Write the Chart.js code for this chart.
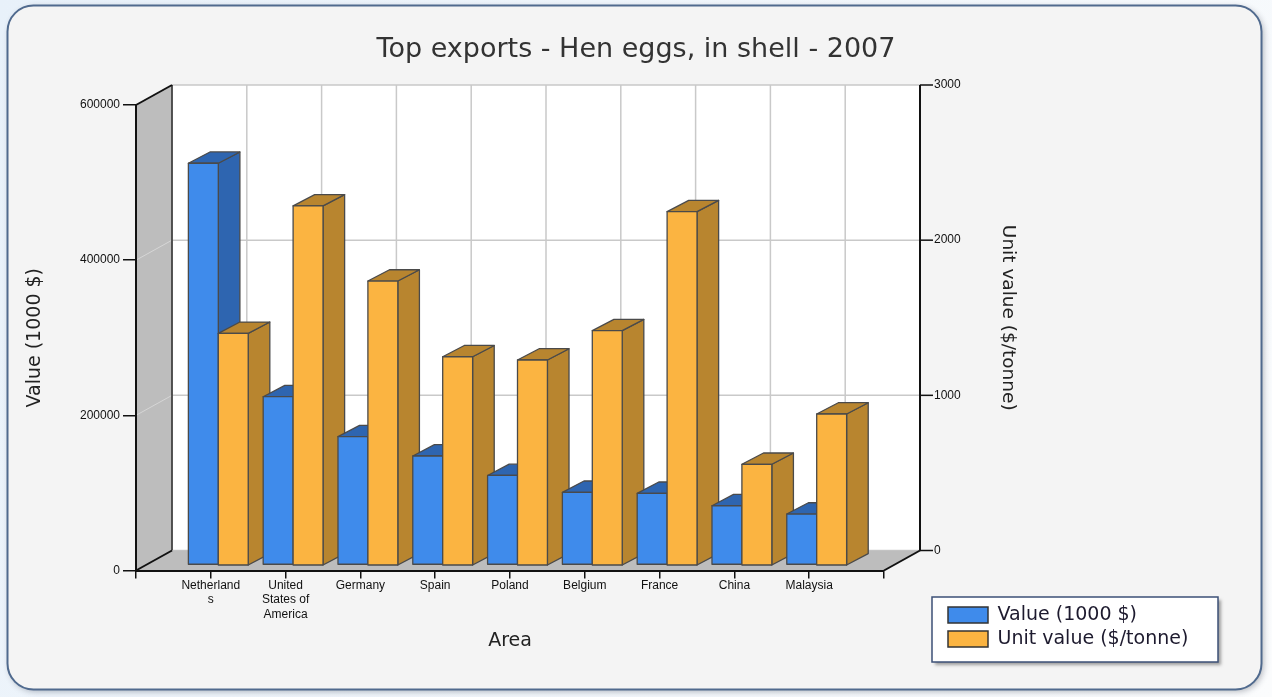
<!DOCTYPE html>
<html>
<head>
<meta charset="utf-8">
<script src="https://cdn.jsdelivr.net/npm/chart.js@4.4.1/dist/chart.umd.min.js"></script>
<style>
  html, body { margin: 0; padding: 0; background: #eef5fb; }
  canvas { display: block; }
</style>
</head>
<body>
<canvas id="chart" width="1272" height="697"></canvas>
<script>
// Top exporters of hen eggs in shell, 2007
const categories = ['Netherlands', 'United States of America', 'Germany', 'Spain', 'Poland', 'Belgium', 'France', 'China', 'Malaysia'];
const categoryTickLines = [['Netherland', 's'], ['United', 'States of', 'America'], ['Germany'], ['Spain'], ['Poland'], ['Belgium'], ['France'], ['China'], ['Malaysia']];
const exportValue = [517800, 216900, 165400, 140500, 115400, 93700, 92400, 76400, 65700];   // 1000 $
const unitValue = [1493, 2314, 1830, 1342, 1321, 1510, 2277, 649, 973];                      // $/tonne
const valueTicks = [0, 200000, 400000, 600000];
const unitTicks = [0, 1000, 2000, 3000];

// oblique projection: offset of the back plane, and of the bar boxes
const WALL = { dx: 36, dy: -20 };
const BAR_FRONT = { dx: 7.5, dy: -5.5 };
const BAR_DEPTH = { dx: 21.6, dy: -11.3 };

const COLORS = {
  valueFront: '#3f8beb', valueSide: '#2e65b0',
  unitFront: '#fbb441', unitSide: '#b8852f',
  edge: '#4a4a4a', wall: '#bdbdbd', grid: '#c9c9c9'
};

const TITLE_FONT = '"DejaVu Sans", Verdana, sans-serif';

// the axis runs from an empty slot to an empty slot, so each country sits on a grid line
const padSlots = arr => [null, ...arr, null];

function poly(ctx, pts, fill, stroke, lw) {
  ctx.beginPath();
  ctx.moveTo(pts[0][0], pts[0][1]);
  for (let i = 1; i < pts.length; i++) ctx.lineTo(pts[i][0], pts[i][1]);
  ctx.closePath();
  if (fill) { ctx.fillStyle = fill; ctx.fill(); }
  if (stroke) { ctx.strokeStyle = stroke; ctx.lineWidth = lw || 1; ctx.stroke(); }
}
function line(ctx, x0, y0, x1, y1, color, lw) {
  ctx.beginPath(); ctx.moveTo(x0, y0); ctx.lineTo(x1, y1);
  ctx.strokeStyle = color; ctx.lineWidth = lw; ctx.stroke();
}
function roundRectPath(ctx, x, y, w, h, r) {
  ctx.beginPath();
  ctx.moveTo(x + r, y);
  ctx.arcTo(x + w, y, x + w, y + h, r);
  ctx.arcTo(x + w, y + h, x, y + h, r);
  ctx.arcTo(x, y + h, x, y, r);
  ctx.arcTo(x, y, x + w, y, r);
  ctx.closePath();
}

const LEGEND_FRAME = { x: 932, y: 597, w: 286, h: 65 };

const chart3d = {
  id: 'chart3d',
  afterLayout(chart) {
    const lg = chart.legend;
    lg.left = LEGEND_FRAME.x + 11; lg.top = LEGEND_FRAME.y + 3.5;
    lg.right = lg.left + lg.width; lg.bottom = lg.top + lg.height;
  },
  beforeDraw(chart) {
    const { ctx, chartArea: a, scales: { x, y, y1 } } = chart;
    const L = a.left, R = a.right, T = a.top, B = a.bottom;
    const dx = WALL.dx, dy = WALL.dy;
    ctx.save();

    // page and rounded panel
    const bg = ctx.createLinearGradient(0, 0, chart.width, chart.height);
    bg.addColorStop(0, '#e8f1fa'); bg.addColorStop(1, '#fbfcfd');
    ctx.fillStyle = bg; ctx.fillRect(0, 0, chart.width, chart.height);
    ctx.save();
    ctx.shadowColor = 'rgba(40,50,70,0.35)'; ctx.shadowBlur = 6; ctx.shadowOffsetX = 2; ctx.shadowOffsetY = 2;
    roundRectPath(ctx, 7.5, 5.5, 1254, 684, 26);
    ctx.fillStyle = '#f4f4f4'; ctx.fill();
    ctx.restore();
    roundRectPath(ctx, 7.5, 5.5, 1254, 684, 26);
    ctx.strokeStyle = '#506a8e'; ctx.lineWidth = 2; ctx.stroke();

    // back wall with grid
    ctx.fillStyle = '#ffffff';
    ctx.fillRect(L + dx, T + dy, R - L, B - T);
    valueTicks.forEach(v => {
      const py = y.getPixelForValue(v) + dy;
      line(ctx, L + dx, py, R + dx, py, COLORS.grid, 1.5);
    });
    x.ticks.forEach((t, i) => {
      const px = x.getPixelForTick(i) + dx;
      line(ctx, px, T + dy, px, B + dy, COLORS.grid, 1.5);
    });

    // left side wall
    poly(ctx, [[L, T], [L + dx, T + dy], [L + dx, B + dy], [L, B]], COLORS.wall);
    valueTicks.slice(1, -1).forEach(v => {
      const py = y.getPixelForValue(v);
      line(ctx, L, py, L + dx, py + dy, 'rgba(230,230,230,0.6)', 1);
    });
    line(ctx, L + dx, T + dy, L + dx, B + dy, '#2a2a2a', 1.5);
    line(ctx, L, T, L + dx, T + dy, '#111', 2);

    // floor
    poly(ctx, [[L, B], [L + dx, B + dy], [R + dx, B + dy], [R, B]], COLORS.wall);
    line(ctx, L, B, L + dx, B + dy, '#111', 2);
    line(ctx, R, B, R + dx, B + dy, '#111', 2);

    // secondary axis standing on the back plane
    const ax = R + dx;
    line(ctx, ax, y1.getPixelForValue(unitTicks[0]) + dy, ax, y1.getPixelForValue(unitTicks[unitTicks.length - 1]) + dy, '#111', 2);
    ctx.font = '12px "Liberation Sans", Arial, sans-serif';
    ctx.fillStyle = '#111'; ctx.textAlign = 'left'; ctx.textBaseline = 'middle';
    unitTicks.forEach(v => {
      const py = y1.getPixelForValue(v) + dy;
      line(ctx, ax, py, ax + 13, py, '#111', 1.5);
      ctx.fillText(String(v), ax + 14, py);
    });
    ctx.save();
    ctx.translate(1008, (y1.getPixelForValue(unitTicks[0]) + y1.getPixelForValue(unitTicks[unitTicks.length - 1])) / 2 + dy);
    ctx.rotate(Math.PI / 2);
    ctx.font = '18.5px ' + TITLE_FONT;
    ctx.fillStyle = '#222'; ctx.textAlign = 'center';
    ctx.fillText('Unit value ($/tonne)', 0, 0);
    ctx.restore();

    // legend frame
    const f = LEGEND_FRAME;
    ctx.save();
    ctx.shadowColor = 'rgba(0,0,0,0.35)'; ctx.shadowBlur = 3; ctx.shadowOffsetX = 3; ctx.shadowOffsetY = 3;
    ctx.fillStyle = '#ffffff'; ctx.fillRect(f.x, f.y, f.w, f.h);
    ctx.restore();
    ctx.strokeStyle = '#3d5077'; ctx.lineWidth = 1.5;
    ctx.strokeRect(f.x, f.y, f.w, f.h);
    ctx.restore();
  },
  beforeDatasetsDraw(chart) {
    const ctx = chart.ctx;
    const sides = [COLORS.valueSide, COLORS.unitSide];
    const fronts = [COLORS.valueFront, COLORS.unitFront];
    const metas = chart.data.datasets.map((_, d) => chart.getDatasetMeta(d));
    const n = chart.data.labels.length;
    ctx.save();
    ctx.lineJoin = 'round';
    for (let i = 0; i < n; i++) {
      metas.forEach((meta, d) => {
        const el = meta.data[i];
        if (!el || chart.data.datasets[d].data[i] == null) return;
        const { x, y, base, width } = el.getProps(['x', 'y', 'base', 'width'], true);
        const x0 = x - width / 2 + BAR_FRONT.dx, x1 = x0 + width;
        const yt = y + BAR_FRONT.dy, yb = base + BAR_FRONT.dy;
        const ddx = BAR_DEPTH.dx, ddy = BAR_DEPTH.dy;
        poly(ctx, [[x1, yt], [x1 + ddx, yt + ddy], [x1 + ddx, yb + ddy], [x1, yb]], sides[d], COLORS.edge, 1.3);
        poly(ctx, [[x0, yt], [x1, yt], [x1 + ddx, yt + ddy], [x0 + ddx, yt + ddy]], sides[d], COLORS.edge, 1.3);
        poly(ctx, [[x0, yt], [x1, yt], [x1, yb], [x0, yb]], fronts[d], COLORS.edge, 1.3);
      });
    }
    ctx.restore();
    return false;
  }
};

Chart.defaults.font.family = '"Liberation Sans", Arial, sans-serif';
Chart.defaults.color = '#111';

new Chart(document.getElementById('chart'), {
  type: 'bar',
  data: {
    labels: padSlots(categoryTickLines).map(l => l || ''),
    datasets: [
      { label: 'Value (1000 $)', data: padSlots(exportValue), yAxisID: 'y',
        backgroundColor: COLORS.valueFront, borderColor: '#333', borderWidth: 1.5 },
      { label: 'Unit value ($/tonne)', data: padSlots(unitValue), yAxisID: 'y1',
        backgroundColor: COLORS.unitFront, borderColor: '#333', borderWidth: 1.5 }
    ]
  },
  options: {
    responsive: false,
    animation: false,
    devicePixelRatio: 1,
    layout: { padding: { left: 10, right: 10, top: 10, bottom: 10 } },
    datasets: { bar: { categoryPercentage: 0.8, barPercentage: 1 } },
    plugins: {
      title: {
        display: true,
        text: 'Top exports - Hen eggs, in shell - 2007',
        color: '#333',
        font: { family: TITLE_FONT, size: 27, weight: 'normal', lineHeight: 1.2 },
        padding: { top: 23.8, bottom: 38.8 }
      },
      legend: {
        position: 'chartArea',
        align: 'start',
        labels: {
          boxWidth: 40, boxHeight: 16, padding: 5, color: '#1d1a2e',
          font: { family: TITLE_FONT, size: 19 }
        }
      },
      tooltip: { enabled: false }
    },
    scales: {
      x: {
        type: 'category',
        offset: false,
        grid: { display: true, offset: false, drawOnChartArea: false, drawTicks: true, tickLength: 8, color: '#111', lineWidth: 1.5 },
        border: { display: true, color: '#111', width: 2 },
        ticks: { autoSkip: false, maxRotation: 0, minRotation: 0, padding: 0, color: '#111',
                 font: { size: 12 } },
        title: { display: true, text: 'Area', color: '#222',
                 font: { family: TITLE_FONT, size: 19 }, padding: { bottom: 34.6 } },
        afterFit: s => { s.height = 116.5; }
      },
      y: {
        position: 'left',
        min: 0, max: 600000,
        afterBuildTicks: s => { s.ticks = valueTicks.map(v => ({ value: v })); },
        grid: { display: true, drawOnChartArea: false, drawTicks: true, tickLength: 13, color: '#111', lineWidth: 1.5 },
        border: { display: true, color: '#111', width: 2 },
        ticks: { padding: 3, color: '#111', font: { size: 12 }, callback: v => String(v) },
        title: { display: true, text: 'Value (1000 $)', color: '#222',
                 font: { family: TITLE_FONT, size: 19 }, padding: { top: 13.6 } },
        afterFit: s => { s.width = 126; }
      },
      y1: {
        position: 'right',
        min: 0, max: 3000,
        afterBuildTicks: s => { s.ticks = unitTicks.map(v => ({ value: v })); },
        grid: { display: false },
        border: { display: false },
        ticks: { display: false },
        title: { display: false },
        afterFit: s => { s.width = 378; }
      }
    }
  },
  plugins: [chart3d]
});
</script>
</body>
</html>
